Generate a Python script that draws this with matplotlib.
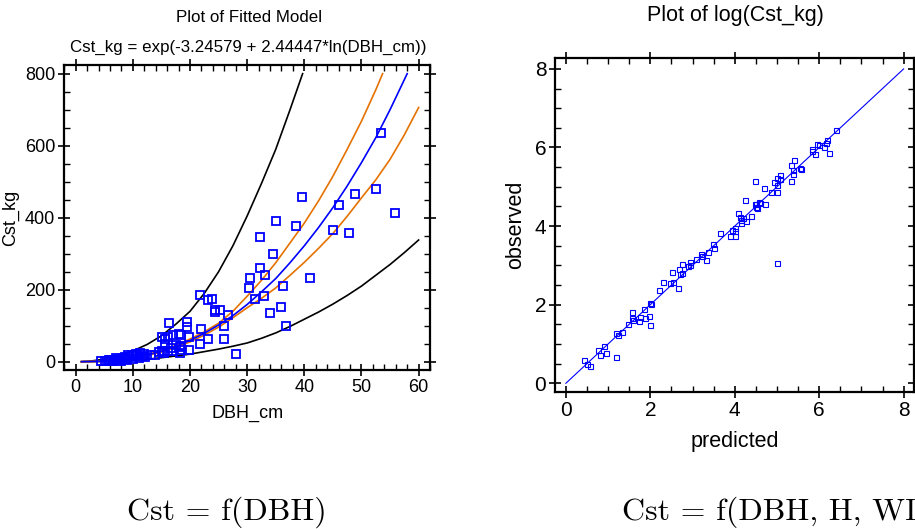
import numpy as np
import matplotlib
matplotlib.use("Agg")
import matplotlib.pyplot as plt
from matplotlib.ticker import MultipleLocator

# left panel: fitted model Cst_kg vs DBH_cm
dbh_cm = [53.4, 52.6, 48.9, 39.6, 46.0, 55.9, 35.0, 38.5, 45.0, 47.8,
          32.3, 34.5, 32.3, 33.2, 30.5, 41.0, 36.2, 30.3, 32.9, 31.4,
          36.0, 34.0, 36.8, 28.1, 21.8, 23.9, 23.1, 24.4, 24.4, 25.3,
          26.6, 25.9, 25.9, 23.1, 21.9, 21.7, 19.4, 19.4, 19.9, 19.9,
          18.5, 18.5, 18.3, 16.3, 18.0, 17.0, 16.1, 15.1, 15.7, 15.7,
          15.1, 16.1, 17.0, 13.8, 15.4, 18.3, 18.6, 16.6, 17.6, 14.5,
          4.5, 5.2, 5.8, 6.3, 6.8, 7.2, 7.5, 7.9, 8.3, 8.6,
          8.8, 9.1, 9.4, 9.8, 10.1, 10.5, 10.8, 11.2, 11.6, 12.0,
          6.0, 7.0, 8.0, 9.0, 10.0, 11.0, 12.2, 13.2, 5.5, 6.6]
cst_kg = [636, 479, 466, 458, 435, 412, 390, 377, 366, 358,
          345, 300, 260, 241, 233, 233, 210, 206, 183, 175,
          153, 134, 98, 22, 184, 174, 170, 143, 137, 144,
          130, 98, 62, 62, 91, 49, 109, 97, 68, 32,
          74, 44, 23, 108, 76, 73, 69, 68, 63, 49,
          30, 30, 30, 19, 23, 40, 33, 38, 45, 26,
          3, 2, 4, 3, 5, 4, 8, 6, 10, 14,
          8, 18, 12, 20, 15, 22, 18, 24, 16, 22,
          6, 10, 3, 5, 7, 10, 14, 18, 1, 2]

# curves
fit_x = [1, 2.5, 5, 7.5, 10, 12.5, 15, 17.5, 20, 22.5, 25, 27.5, 30, 32.5,
         35, 37.5, 40, 42.5, 45, 47.5, 50, 52.5, 55, 58]
fit_y = [0.04, 0.4, 2, 5.4, 11, 19, 29, 43, 59, 79, 102, 128, 159, 194,
         231, 275, 322, 373, 428, 488, 553, 622, 700, 800]
conf_hi_x = [1, 2.5, 5, 7.5, 10, 12.5, 15, 17.5, 20, 22.5, 25, 27.5, 30, 32.5,
             35, 37.5, 40, 42.5, 45, 47.5, 50, 52.5, 53.7]
conf_hi_y = [0.05, 0.45, 2.2, 6, 12, 20, 31, 45, 63, 83, 107, 140, 182, 226,
             275, 330, 385, 447, 515, 590, 668, 755, 800]
conf_lo_x = [1, 2.5, 5, 7.5, 10, 12.5, 15, 17.5, 20, 22.5, 25, 27.5, 30, 32.5,
             35, 37.5, 40, 42.5, 45, 47.5, 50, 52.5, 55, 57.5, 60]
conf_lo_y = [0.03, 0.35, 1.8, 4.9, 9.8, 17, 27, 40, 55, 74, 96, 122, 150, 176,
             205, 240, 276, 315, 356, 404, 455, 505, 562, 630, 706]
pred_hi_x = [1, 2.5, 5, 7.5, 10, 12.5, 15, 17.5, 20, 22.5, 25, 27.5, 30, 32.5,
             35, 37.5, 39.7]
pred_hi_y = [0.1, 1.5, 7, 16, 30, 48, 72, 104, 140, 190, 250, 322, 405, 495,
             590, 700, 800]
pred_lo_x = [1, 2.5, 5, 7.5, 10, 12.5, 15, 17.5, 20, 22.5, 25, 27.5, 30, 32.5,
             35, 37.5, 40, 42.5, 45, 47.5, 50, 52.5, 55, 57.5, 60]
pred_lo_y = [0.01, 0.1, 0.6, 2, 4, 7, 11, 16, 21, 28, 35, 43, 52, 65,
             80, 98, 118, 138, 160, 184, 210, 240, 270, 303, 338]

# right panel: observed vs predicted log(Cst_kg)
predicted = [0.42, 0.49, 0.57, 0.75, 0.80, 0.90, 0.96, 1.19, 1.19, 1.24,
             1.33, 1.48, 1.56, 1.56, 1.60, 1.73, 1.75, 1.86, 1.88, 1.97,
             2.00, 2.02, 2.00, 2.21, 2.31, 2.46, 2.52, 2.54, 2.66, 2.67,
             2.70, 2.75, 2.75, 2.90, 2.94, 2.93, 3.08, 3.21, 3.22, 3.33,
             3.37, 3.48, 3.51, 3.66, 3.89, 3.93, 4.01, 4.01, 4.01, 4.07,
             4.12, 4.14, 4.14, 4.20, 4.26, 4.39, 4.51, 4.51, 4.60, 4.72,
             5.01, 4.25, 4.48, 4.70, 4.49, 4.57, 4.53, 4.87, 5.00, 4.94,
             5.00, 5.08, 5.00, 5.08, 5.34, 5.39, 5.39, 5.34, 5.41, 5.55,
             5.58, 5.83, 5.83, 5.90, 5.94, 6.00, 6.11, 6.15, 6.18, 6.24,
             6.41]
observed = [0.58, 0.49, 0.45, 0.85, 0.72, 0.96, 0.76, 0.67, 1.28, 1.22,
            1.30, 1.50, 1.82, 1.67, 1.60, 1.58, 1.69, 1.90, 1.67, 1.71,
            2.04, 2.01, 1.48, 2.38, 2.58, 2.56, 2.84, 2.58, 2.43, 2.92,
            2.78, 3.04, 2.80, 2.98, 3.09, 3.00, 3.16, 3.29, 3.23, 3.14,
            3.34, 3.54, 3.43, 3.82, 3.74, 3.90, 3.95, 3.87, 3.76, 4.34,
            4.24, 4.16, 4.07, 4.20, 4.13, 4.25, 4.56, 4.48, 4.60, 4.56,
            3.06, 4.66, 5.15, 4.96, 4.56, 4.62, 4.47, 4.88, 4.88, 5.11,
            5.05, 5.19, 5.22, 5.30, 5.14, 5.33, 5.43, 5.55, 5.67, 5.48,
            5.45, 5.95, 5.90, 5.83, 6.10, 6.06, 6.02, 6.12, 6.18, 5.86,
            6.45]
diag = [0, 8]

plt.rcParams['font.family'] = ['Liberation Sans', 'DejaVu Sans']
BLUE = '#0000ff'
ORANGE = '#e57200'

fig = plt.figure(figsize=(9.15, 5.29), dpi=100)

# ---- left
ax1 = fig.add_axes([0.0703, 0.3006, 0.3997, 0.5765])
ax1.plot(pred_hi_x, pred_hi_y, color='black', lw=1.2)
ax1.plot(pred_lo_x, pred_lo_y, color='black', lw=1.2)
ax1.plot(conf_hi_x, conf_hi_y, color=ORANGE, lw=1.2)
ax1.plot(conf_lo_x, conf_lo_y, color=ORANGE, lw=1.2)
ax1.plot(fit_x, fit_y, color=BLUE, lw=1.2)
ax1.plot(dbh_cm, cst_kg, 's', mfc='none', mec=BLUE, ms=5.5, mew=1.3)
ax1.set_xlim(-2, 62)
ax1.set_ylim(-23, 824)
ax1.set_xticks(range(0, 61, 10))
ax1.set_yticks(range(0, 801, 200))
ax1.xaxis.set_minor_locator(MultipleLocator(2))
ax1.yaxis.set_minor_locator(MultipleLocator(50))
ax1.set_xlabel("DBH_cm", fontsize=13, labelpad=6)
ax1.set_ylabel("Cst_kg", fontsize=13, labelpad=4)

# ---- right
ax2 = fig.add_axes([0.6069, 0.2584, 0.3922, 0.6314])
ax2.plot(diag, diag, color=BLUE, lw=0.8)
ax2.plot(predicted, observed, 's', mfc='none', mec=BLUE, ms=3.6, mew=0.8)
ax2.set_xlim(-0.25, 8.25)
ax2.set_ylim(-0.23, 8.27)
ax2.set_xticks(range(0, 9, 2))
ax2.set_yticks(range(0, 9, 2))
ax2.xaxis.set_minor_locator(MultipleLocator(0.5))
ax2.yaxis.set_minor_locator(MultipleLocator(0.5))
ax2.set_xlabel("predicted", fontsize=15.5, labelpad=8)
ax2.set_ylabel("observed", fontsize=15.5, labelpad=6)

for ax, fs in [(ax1, 13), (ax2, 15)]:
    for s in ax.spines.values():
        s.set_linewidth(1.6)
    ax.tick_params(which='major', direction='inout', length=9, width=1.2,
                   top=True, right=True, labelsize=fs, pad=2)
    ax.tick_params(which='minor', direction='in', length=4, width=1.0,
                   top=True, right=True)

fig.text(0.2716, 1 - 17 / 529, "Plot of Fitted Model", ha='center', va='center', fontsize=12.2)
fig.text(0.2716, 1 - 47 / 529, "Cst_kg = exp(-3.24579 + 2.44447*ln(DBH_cm))",
         ha='center', va='center', fontsize=12.2)
fig.text(735.5 / 915, 1 - 16 / 529, "Plot of log(Cst_kg)", ha='center', va='center', fontsize=15.5)

# captions under the panels (the second one runs off the right edge, as in the source)
fig.text(127 / 915, 1 - 520 / 529, "Cst = f(DBH)", family='cmr10', fontsize=23, va='baseline')
fig.text(622 / 915, 1 - 520 / 529, "Cst = f(DBH, H, WD)", family='cmr10', fontsize=23, va='baseline')

plt.savefig("out.png", dpi=100)
